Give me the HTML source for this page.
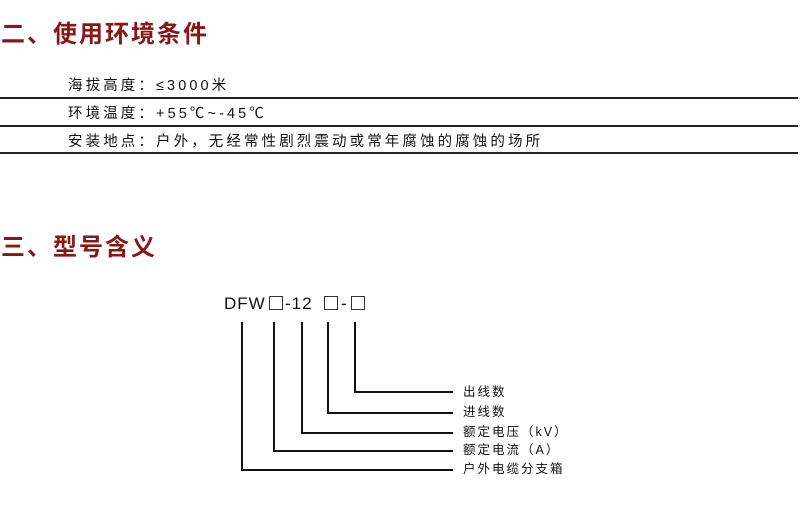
<!DOCTYPE html>
<html><head><meta charset="utf-8"><style>
body{margin:0;width:800px;height:527px;background:#fff;position:relative;overflow:hidden;font-family:"Liberation Sans","Noto Sans CJK SC",sans-serif;}
.h{position:absolute;left:1px;color:#8a1616;font-weight:bold;font-size:24px;letter-spacing:2px;line-height:26px;white-space:nowrap;font-family:"Liberation Sans","Noto Sans CJK SC",sans-serif;}
.r{position:absolute;left:68px;font-size:14.5px;letter-spacing:3.1px;color:#111;line-height:18px;white-space:nowrap;}
.ln{position:absolute;left:0;width:798px;height:2px;background:#222;}
.lb{position:absolute;left:463px;font-size:12.5px;letter-spacing:2px;color:#111;line-height:14px;white-space:nowrap;}
.t{position:absolute;top:295px;font-size:17px;color:#111;line-height:17px;white-space:nowrap;}
.b{position:absolute;top:296px;width:12px;height:12px;border:1.2px solid #333;}
</style></head><body>
<div class="h" style="top:22px">二、使用环境条件</div>
<div class="r" style="top:77px">海拔高度：≤3000米</div>
<div class="ln" style="top:97px"></div>
<div class="r" style="top:105px">环境温度：+55℃~-45℃</div>
<div class="ln" style="top:125px"></div>
<div class="r" style="top:133px">安装地点：户外，无经常性剧烈震动或常年腐蚀的腐蚀的场所</div>
<div class="ln" style="top:152px"></div>
<div class="h" style="top:235px">三、型号含义</div>
<div class="t" style="left:224px;letter-spacing:1px">DFW</div>
<div class="b" style="left:269px"></div>
<div class="t" style="left:285px;letter-spacing:1px">-12</div>
<div class="b" style="left:324px"></div>
<div class="t" style="left:341px">-</div>
<div class="b" style="left:351px"></div>
<svg style="position:absolute;left:0;top:0" width="800" height="527">
<g stroke="#111" stroke-width="2" fill="none">
<polyline points="355,322 355,392 453,392"/>
<polyline points="328,322 328,413 453,413"/>
<polyline points="302,322 302,433 453,433"/>
<polyline points="274,322 274,451 453,451"/>
<polyline points="242,322 242,470 453,470"/>
</g></svg>
<div class="lb" style="top:385px">出线数</div>
<div class="lb" style="top:405px">进线数</div>
<div class="lb" style="top:425px">额定电压（kV）</div>
<div class="lb" style="top:443px">额定电流（A）</div>
<div class="lb" style="top:462px">户外电缆分支箱</div>
</body></html>
